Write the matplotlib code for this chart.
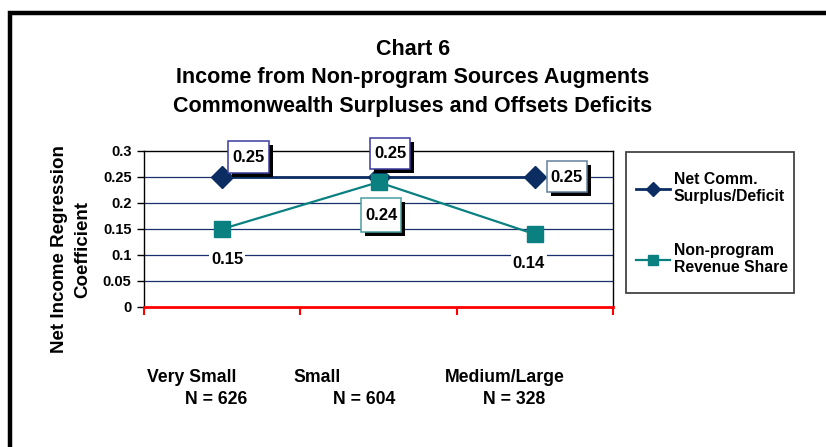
import matplotlib
matplotlib.use("Agg")
import matplotlib.pyplot as plt
from matplotlib.patches import Rectangle
import matplotlib.transforms as mtransforms

plt.rcParams['font.family'] = ['Liberation Sans', 'DejaVu Sans']

categories = ["Very Small", "Small", "Medium/Large"]
n_labels = ["N = 626", "N = 604", "N = 328"]
net_comm = [0.25, 0.25, 0.25]
non_program = [0.15, 0.24, 0.14]
series_names = ["Net Comm.\nSurplus/Deficit", "Non-program\nRevenue Share"]
yticks = [0, 0.05, 0.1, 0.15, 0.2, 0.25, 0.3]
ytick_labels = ["0", "0.05", "0.1", "0.15", "0.2", "0.25", "0.3"]

W, H = 826, 447
DPI = 100
fig = plt.figure(figsize=(W / DPI, H / DPI), dpi=DPI)

def fx(px):
    return px / W

def fy(py):
    return 1 - py / H

# outer frame
fig.patches.append(Rectangle((fx(10), fy(460)), 1.0, fy(13) - fy(460), transform=fig.transFigure,
                             fill=False, edgecolor='black', linewidth=3.2, clip_on=False))

ax = fig.add_axes([fx(144), fy(307), fx(613) - fx(144), fy(151) - fy(307)])
xs = [0.5, 1.5, 2.5]
navy = '#0b2d62'
teal = '#0a8080'

ax.set_xlim(0, 3)
ax.set_ylim(0, 0.3)
ax.set_yticks(yticks)
ax.set_yticklabels(ytick_labels, fontsize=10.5, fontweight='bold')
for y in yticks[1:-1]:
    ax.axhline(y, color='#1a2f6e', linewidth=0.9, zorder=1)
ax.set_xticks([0, 1, 2, 3])
ax.set_xticklabels([])
ax.tick_params(axis='x', colors='red', length=6, width=1.5, direction='out')
ax.tick_params(axis='y', length=5, width=1, colors='black', pad=4)
ax.spines['bottom'].set_color('red')
ax.spines['bottom'].set_linewidth(2)
for s in ['left', 'right', 'top']:
    ax.spines[s].set_linewidth(1)
    ax.spines[s].set_color('black')

l1, = ax.plot(xs, net_comm, color=navy, linewidth=2, marker='D', markersize=11.5,
              markerfacecolor=navy, markeredgecolor=navy, zorder=3, clip_on=False)
l2, = ax.plot(xs, non_program, color=teal, linewidth=1.6, marker='s', markersize=12,
              markerfacecolor=teal, markeredgecolor=teal, zorder=4, clip_on=False)

LBL = 12

def boxed(x, y, txt, dx, dy, edge, w=41, h=32):
    trans = fig.dpi_scale_trans + mtransforms.ScaledTranslation(x, y, ax.transData)
    ax.add_patch(Rectangle(((dx - w / 2 + 4) / DPI, (dy - h / 2 - 4) / DPI), w / DPI, h / DPI,
                           transform=trans, facecolor='black', edgecolor='none',
                           zorder=5, clip_on=False))
    ax.add_patch(Rectangle(((dx - w / 2) / DPI, (dy - h / 2) / DPI), w / DPI, h / DPI,
                           transform=trans, facecolor='white', edgecolor=edge, linewidth=1.1,
                           zorder=6, clip_on=False))
    off = mtransforms.offset_copy(ax.transData, fig=fig, x=dx, y=dy - 1, units='dots')
    ax.text(x, y, txt, transform=off, ha='center', va='center', fontsize=LBL, fontweight='bold',
            color='black', zorder=7)

def plain(x, y, txt, dx, dy):
    off = mtransforms.offset_copy(ax.transData, fig=fig, x=dx, y=dy, units='dots')
    ax.text(x, y, txt, transform=off, ha='center', va='center', fontsize=LBL, fontweight='bold',
            color='black', zorder=6,
            bbox=dict(boxstyle='square,pad=0.1', facecolor='white', edgecolor='none'))

boxed(xs[0], net_comm[0], f"{net_comm[0]:.2f}", 26.5, 20, '#3a3a9e')
boxed(xs[1], net_comm[1], f"{net_comm[1]:.2f}", 11.5, 24, '#3a3a9e', w=40, h=31)
boxed(xs[2], net_comm[2], f"{net_comm[2]:.2f}", 32, 0.5, '#62809e', w=40, h=31)
plain(xs[0], non_program[0], f"{non_program[0]:.2f}", 5, -30)
boxed(xs[1], non_program[1], f"{non_program[1]:.2f}", 2.5, -32.5, '#4a9e9e', w=40, h=34)
plain(xs[2], non_program[2], f"{non_program[2]:.2f}", -6, -29)

# title
fig.text(fx(413), fy(78), "Chart 6\nIncome from Non-program Sources Augments\nCommonwealth Surpluses and Offsets Deficits",
         ha='center', va='center', fontsize=15.5, fontweight='bold', linespacing=1.45)

# y label
fig.text(fx(71), fy(249), "Net Income Regression\nCoefficient", rotation=90, ha='center', va='center',
         fontsize=13.5, fontweight='bold', linespacing=1.5)

# category labels
cat_x = [192, 317, 505]
n_x = [216, 364, 514]
for c, cx in zip(categories, cat_x):
    fig.text(fx(cx), fy(377), c, ha='center', va='center', fontsize=12.7, fontweight='bold')
for n, nx in zip(n_labels, n_x):
    fig.text(fx(nx), fy(400), n, ha='center', va='center', fontsize=12.7, fontweight='bold')

# legend (frame drawn separately)
fig.patches.append(Rectangle((fx(626), fy(293)), fx(794) - fx(626), fy(152) - fy(293),
                             transform=fig.transFigure, fill=True, facecolor='white',
                             edgecolor='#444444', linewidth=1.3, zorder=1))
leg = fig.legend([l1, l2], series_names, loc='upper left',
                 bbox_to_anchor=(fx(636), fy(172)), bbox_transform=fig.transFigure,
                 borderaxespad=0, borderpad=0,
                 frameon=False,
                 prop={'weight': 'bold', 'size': 11.3}, handlelength=2.15, handletextpad=0.25,
                 labelspacing=2.45, markerscale=0.62)
leg.set_zorder(3)

fig.savefig("out.png", dpi=DPI)
